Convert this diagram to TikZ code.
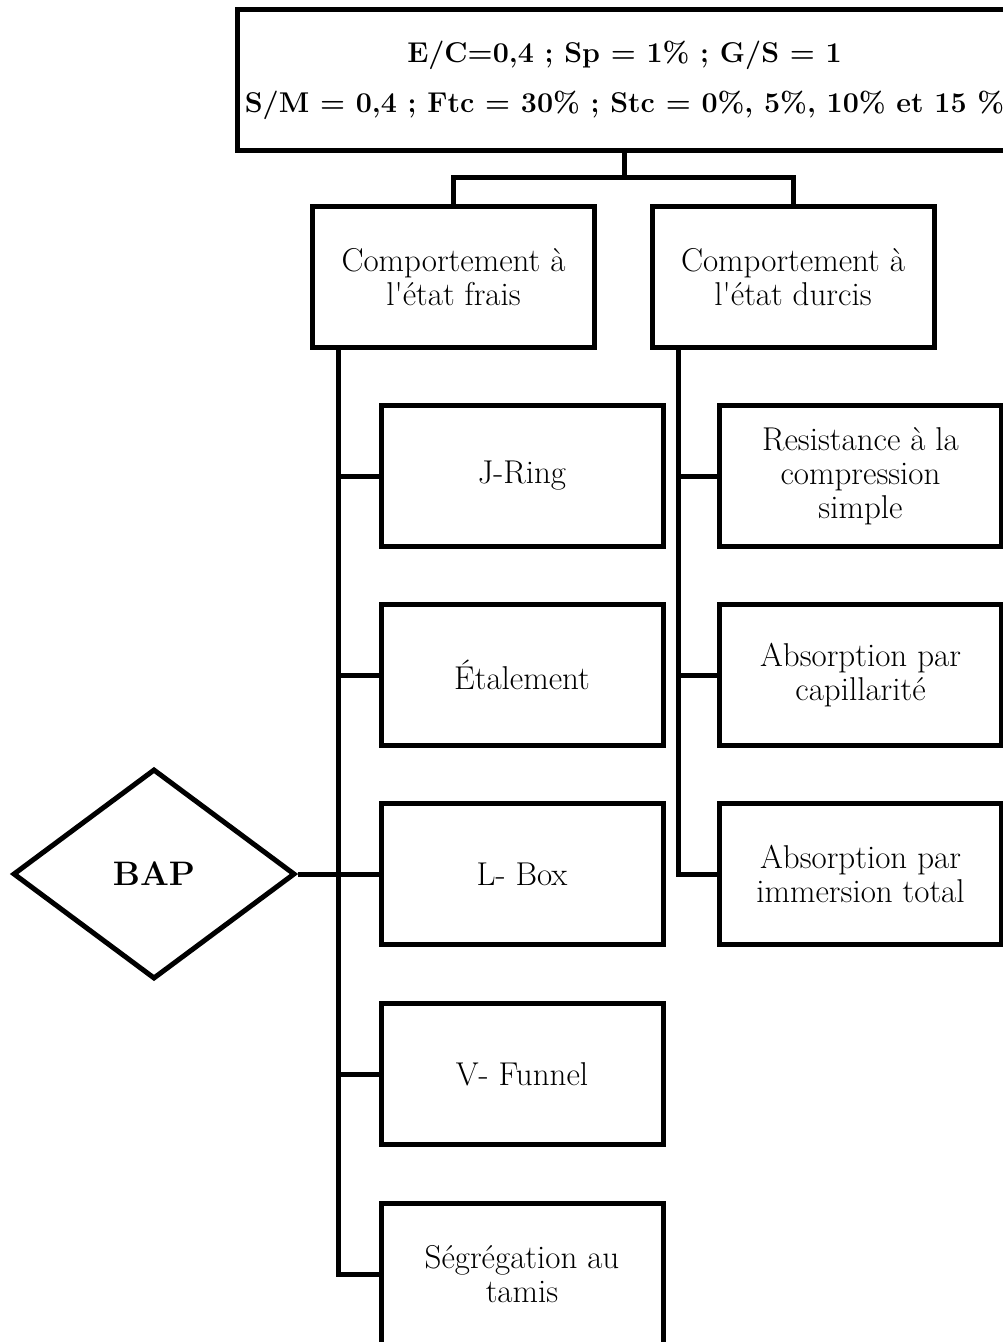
\documentclass[tikz,border=0pt]{standalone}
\usepackage{tikz}
\usetikzlibrary{shapes.geometric}

\begin{document}
\begin{tikzpicture}[x=0.5pt,y=-0.5pt,
  line width=2.5pt,
  box/.style={draw,rectangle,align=center,inner sep=0pt,
    minimum width=141pt,minimum height=70.5pt,
    font=\fontsize{16.5}{17}\selectfont},
  head/.style={draw,rectangle,align=center,inner sep=0pt,
    minimum width=387.5pt,minimum height=70.5pt,
    font=\bfseries\fontsize{14.3}{25}\selectfont},
  bap/.style={draw,diamond,inner sep=0pt,
    minimum width=141pt,minimum height=105pt,
    font=\bfseries\fontsize{17}{20}\selectfont}
  ]
  \useasboundingbox (0,0) rectangle (1002,1342);
  \node[head] (params) at (624.5,80) {E/C=0,4 ; Sp = 1\% ; G/S = 1\\S/M = 0,4 ; Ftc = 30\% ; Stc = 0\%, 5\%, 10\% et 15 \%};
  \node[box] (frais) at (453.5,277) {Comportement à\\l\textquotesingle état frais};
  \node[box] (durcis) at (793,277) {Comportement à\\l\textquotesingle état durcis};
  \coordinate (split) at (params.south |- 0,178);
  \draw (params.south) -- (split);
  \draw (frais.north) |- (split) -| (durcis.north);

  \node[box] (jring) at (522,476) {J-Ring};
  \node[box] (etal) at (522,675) {Étalement};
  \node[box] (lbox) at (522,874) {L- Box};
  \node[box] (vfun) at (522,1074) {V- Funnel};
  \node[box] (segr) at (522,1274) {Ségrégation au\\tamis};
  \node[bap] (bap) at (154,874) {BAP};

  \node[box] (comp) at (860.5,476) {Resistance à la\\compression\\simple};
  \node[box] (capil) at (860.5,675) {Absorption par\\capillarité};
  \node[box] (immer) at (860.5,874) {Absorption par\\immersion total};

  \coordinate (ltrunk) at ([xshift=14pt]frais.south west);
  \coordinate (rtrunk) at ([xshift=14.5pt]durcis.south west);
  \draw (ltrunk) |- (segr.west);
  \draw (rtrunk) |- (immer.west);
  \foreach \k in {jring,etal,vfun}
    \draw (\k.west) -- (\k.west -| ltrunk);
  \draw (bap.east) -- (lbox.west);
  \foreach \k in {comp,capil}
    \draw (\k.west) -- (\k.west -| rtrunk);
\end{tikzpicture}
\end{document}
